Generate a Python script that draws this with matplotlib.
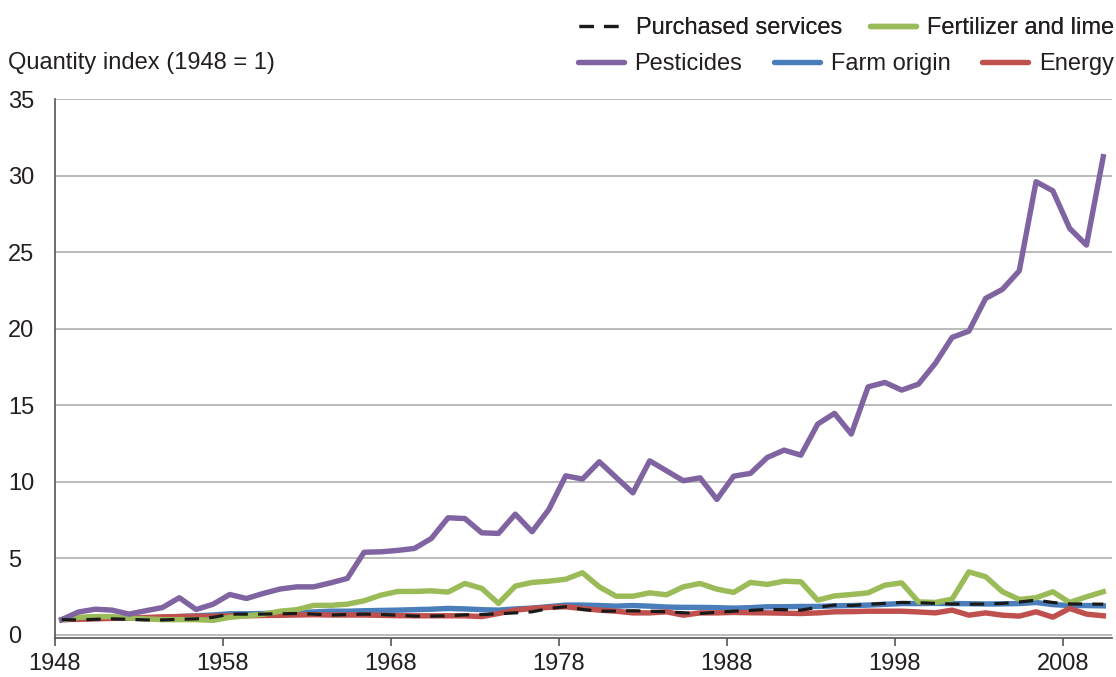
import numpy as np
import matplotlib
matplotlib.use("Agg")
import matplotlib.pyplot as plt
from matplotlib.lines import Line2D

plt.rcParams['font.family'] = ['Liberation Sans', 'DejaVu Sans']

# --- data: quantity index, 1948 = 1 ---
years = np.arange(1948, 2011)

pesticides = [1.0, 1.5, 1.68, 1.62, 1.36, 1.58, 1.79, 2.43, 1.66, 2.0,
              2.64, 2.38, 2.71, 3.0, 3.14, 3.14, 3.4, 3.69, 5.4, 5.43,
              5.52, 5.65, 6.3, 7.65, 7.6, 6.67, 6.63, 7.89, 6.74, 8.2,
              10.39, 10.18, 11.31, 10.29, 9.28, 11.37, 10.72, 10.07, 10.26, 8.85,
              10.37, 10.55, 11.59, 12.07, 11.74, 13.77, 14.47, 13.12, 16.2, 16.49,
              15.99, 16.38, 17.73, 19.43, 19.84, 21.98, 22.57, 23.78, 29.6, 29.0,
              26.55, 25.46, 31.23]

fertilizer = [1.0, 1.15, 1.2, 1.2, 1.1, 1.05, 1.0, 1.0, 1.0, 0.95,
              1.15, 1.25, 1.35, 1.55, 1.65, 1.93, 1.93, 2.01, 2.23, 2.6,
              2.84, 2.84, 2.88, 2.8, 3.36, 3.04, 2.06, 3.19, 3.43, 3.51,
              3.64, 4.06, 3.14, 2.53, 2.53, 2.75, 2.62, 3.14, 3.36, 2.99,
              2.78, 3.43, 3.3, 3.51, 3.47, 2.27, 2.55, 2.64, 2.75, 3.25,
              3.4, 2.16, 2.12, 2.34, 4.12, 3.8, 2.82, 2.32, 2.43, 2.82,
              2.12, 2.49, 2.82]

farm_origin = [1.0, 1.05, 1.1, 1.1, 1.1, 1.1, 1.15, 1.2, 1.25, 1.3,
               1.38, 1.38, 1.4, 1.45, 1.45, 1.5, 1.55, 1.55, 1.58, 1.6,
               1.62, 1.65, 1.68, 1.73, 1.7, 1.65, 1.62, 1.7, 1.75, 1.85,
               1.95, 1.95, 1.92, 1.88, 1.92, 1.88, 1.82, 1.8, 1.8, 1.78,
               1.75, 1.78, 1.84, 1.84, 1.86, 1.86, 1.9, 1.92, 1.95, 2.0,
               2.05, 2.05, 2.06, 2.05, 2.04, 2.02, 2.03, 2.05, 2.12, 1.98,
               1.92, 1.92, 1.9]

purchased = [1.0, 0.98, 1.02, 1.05, 1.02, 0.98, 0.98, 1.02, 1.05, 1.15,
             1.36, 1.36, 1.36, 1.38, 1.4, 1.36, 1.3, 1.33, 1.36, 1.33,
             1.29, 1.23, 1.23, 1.25, 1.31, 1.33, 1.38, 1.44, 1.51, 1.73,
             1.84, 1.67, 1.55, 1.56, 1.58, 1.55, 1.51, 1.45, 1.4, 1.48,
             1.55, 1.6, 1.67, 1.65, 1.62, 1.8, 1.95, 1.92, 2.0, 2.06,
             2.12, 2.1, 2.06, 2.02, 2.01, 2.02, 2.06, 2.15, 2.27, 2.12,
             2.02, 2.02, 2.01]

energy = [1.0, 1.02, 1.05, 1.08, 1.1, 1.14, 1.18, 1.2, 1.22, 1.22,
          1.25, 1.25, 1.27, 1.28, 1.3, 1.32, 1.3, 1.3, 1.3, 1.28,
          1.26, 1.25, 1.25, 1.25, 1.25, 1.2, 1.4, 1.62, 1.73, 1.8,
          1.84, 1.72, 1.62, 1.55, 1.44, 1.44, 1.51, 1.29, 1.44, 1.44,
          1.47, 1.45, 1.44, 1.42, 1.4, 1.44, 1.51, 1.52, 1.55, 1.55,
          1.55, 1.5, 1.44, 1.62, 1.29, 1.44, 1.29, 1.23, 1.51, 1.16,
          1.73, 1.36, 1.25]

xticks = [1948, 1958, 1968, 1978, 1988, 1998, 2008]
yticks = [0, 5, 10, 15, 20, 25, 30, 35]

purple = '#8064a2'
green = '#9bbb59'
blue = '#4a7ebb'
red = '#c0504d'
txt = '#231f20'

W, H = 1116, 677
fig = plt.figure(figsize=(W / 100, H / 100), dpi=100)
ax = fig.add_axes([55 / W, 1 - 638 / H, (1112 - 55) / W, (638 - 99) / H])

x = years + 0.4  # points sit inside each year
lw = 3.9
ax.plot(x, farm_origin, color=blue, lw=lw, solid_joinstyle='round', zorder=3)
ax.plot(x, energy, color=red, lw=lw, solid_joinstyle='round', zorder=4)
ax.plot(x, fertilizer, color=green, lw=lw, solid_joinstyle='round', zorder=5)
ax.plot(x, pesticides, color=purple, lw=lw, solid_joinstyle='round', zorder=6)
ax.plot(x, purchased, color='#1a1a1a', lw=2.3, dashes=(4.5, 3.2), zorder=7)

ax.set_xlim(1948, 2010.92)
ax.set_ylim(-0.2, 35)
ax.set_xticks(xticks)
ax.set_xticklabels([str(v) for v in xticks])
ax.set_yticks(yticks)
ax.set_yticklabels([str(v) for v in yticks])
for lab in ax.get_yticklabels():
    lab.set_horizontalalignment('left')

ax.grid(axis='y', color='#b5b5b5', lw=1.3, zorder=0)
ax.set_axisbelow(True)
for s in ['top', 'right']:
    ax.spines[s].set_visible(False)
ax.spines['left'].set_color('#555555')
ax.spines['left'].set_linewidth(1.2)
ax.spines['bottom'].set_color('#555555')
ax.spines['bottom'].set_linewidth(1.2)
ax.tick_params(axis='x', length=6, width=1.2, color='#555555',
               labelsize=17, labelcolor=txt, pad=5)
ax.tick_params(axis='y', length=0, labelsize=17, labelcolor=txt, pad=34)

fig.text(8 / W, 1 - 63 / H, 'Quantity index (1948 = 1)', fontsize=17,
         color=txt, va='center', ha='left')

# legend, two right-aligned rows
leg_kw = dict(loc='upper right', frameon=False, fontsize=17, borderpad=0,
              borderaxespad=0, handlelength=1.95, handletextpad=0.45,
              labelcolor=txt)
h1 = [Line2D([], [], color='#1a1a1a', lw=2.3, dashes=(4.5, 3.2)),
      Line2D([], [], color=green, lw=3.9, solid_capstyle='round')]
l1 = ['Purchased services', 'Fertilizer and lime']
leg1 = fig.legend(h1, l1, ncol=2, columnspacing=1.2,
                  bbox_to_anchor=(1114 / W, 1 - 17 / H), **leg_kw)
h2 = [Line2D([], [], color=purple, lw=3.9, solid_capstyle='round'),
      Line2D([], [], color=blue, lw=3.9, solid_capstyle='round'),
      Line2D([], [], color=red, lw=3.9, solid_capstyle='round')]
l2 = ['Pesticides', 'Farm origin', 'Energy']
fig.legend(h2, l2, ncol=3, columnspacing=1.35,
           bbox_to_anchor=(1114 / W, 1 - 53 / H), **leg_kw)
fig.add_artist(leg1)

fig.savefig('out.png', dpi=100)
